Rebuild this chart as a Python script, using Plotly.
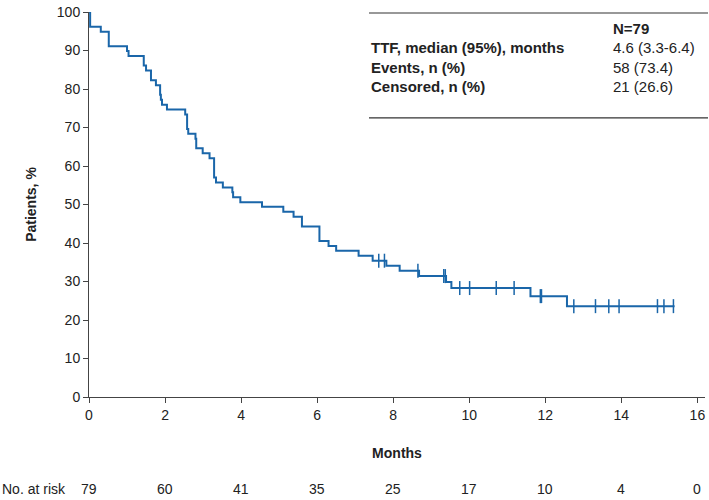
import plotly.graph_objects as go

# Kaplan-Meier step data (months, % patients)
event_times = [0, 0.03, 0.31, 0.52, 1.00, 1.04, 1.44, 1.50, 1.63, 1.76, 1.87, 1.89, 1.92, 2.05,
               2.53, 2.58, 2.61, 2.80, 2.82, 2.99, 3.17, 3.29, 3.34, 3.52, 3.77, 3.79, 3.98,
               4.55, 5.11, 5.38, 5.60, 6.06, 6.30, 6.50, 7.09, 7.46, 7.82, 8.17, 8.68, 9.39,
               9.53, 11.61, 12.57, 15.40]
survival = [100, 96.2, 94.9, 91.1, 89.9, 88.6, 86.1, 84.8, 82.3, 81.0, 78.5, 77.2, 75.9, 74.7,
            73.4, 69.6, 68.4, 67.1, 64.6, 63.3, 62.0, 57.0, 55.7, 54.4, 53.2, 51.9, 50.6,
            49.4, 48.1, 46.8, 44.3, 40.5, 39.2, 38.0, 36.7, 35.4, 34.1, 32.8, 31.4, 29.9,
            28.3, 26.2, 23.6, 23.6]

censor_times = [7.62, 7.77, 8.65, 9.33, 9.37, 9.75, 10.01, 10.71, 11.18, 11.87, 11.90,
                12.75, 13.32, 13.67, 13.94, 14.95, 15.12, 15.37]
censor_surv = [35.4, 35.4, 32.8, 31.4, 31.4, 28.3, 28.3, 28.3, 28.3, 26.2, 26.2,
               23.6, 23.6, 23.6, 23.6, 23.6, 23.6, 23.6]

x_ticks = [0, 2, 4, 6, 8, 10, 12, 14, 16]
y_ticks = [0, 10, 20, 30, 40, 50, 60, 70, 80, 90, 100]
at_risk = [79, 60, 41, 35, 25, 17, 10, 4, 0]

table_labels = ["TTF, median (95%), months", "Events, n (%)", "Censored, n (%)"]
table_values = ["4.6 (3.3-6.4)", "58 (73.4)", "21 (26.6)"]
table_header = "N=79"

BLUE = "#1a66a9"
FONT = "Liberation Sans, Arial, sans-serif"
TXT = "#222222"
W, H = 709, 500
L, R, T, B = 89, 4, 8, 103
PW, PH = W - L - R, H - T - B


def px(xp):
    return (xp - L) / PW


def py(yp):
    return (H - B - yp) / PH


fig = go.Figure()
fig.add_trace(go.Scatter(x=event_times, y=survival, mode="lines",
                         line=dict(color=BLUE, width=2, shape="hv"),
                         cliponaxis=False, showlegend=False, hoverinfo="skip"))
fig.add_trace(go.Scatter(x=censor_times, y=censor_surv, mode="markers",
                         marker=dict(symbol="line-ns", size=10,
                                     line=dict(color=BLUE, width=1.5)),
                         cliponaxis=False, showlegend=False, hoverinfo="skip"))

annotations = []
# at-risk row
annotations.append(dict(text="No. at risk", x=px(0), xref="paper", xanchor="left",
                        y=py(490), yref="paper", yanchor="middle", showarrow=False,
                        font=dict(size=14, color=TXT, family=FONT)))
for xv, n in zip(x_ticks, at_risk):
    annotations.append(dict(text=str(n), x=xv, xref="x", xanchor="center",
                            y=py(490), yref="paper", yanchor="middle", showarrow=False,
                            font=dict(size=14, color=TXT, family=FONT)))
# table
annotations.append(dict(text="<b>" + table_header + "</b>", x=px(611), xref="paper",
                        xanchor="left", y=py(25), yref="paper", yanchor="middle",
                        showarrow=False, font=dict(size=15, color=TXT, family=FONT)))
row_y = [44, 64, 83]
for lab, val, ry in zip(table_labels, table_values, row_y):
    annotations.append(dict(text="<b>" + lab + "</b>", x=px(369), xref="paper",
                            xanchor="left", y=py(ry), yref="paper", yanchor="middle",
                            showarrow=False, font=dict(size=15, color=TXT, family=FONT)))
    annotations.append(dict(text=val, x=px(611), xref="paper",
                            xanchor="left", y=py(ry), yref="paper", yanchor="middle",
                            showarrow=False, font=dict(size=15, color=TXT, family=FONT)))

shapes = [
    dict(type="line", xref="paper", yref="paper", x0=px(369), x1=px(708), y0=py(9), y1=py(9),
         line=dict(color="#333", width=1.2)),
    dict(type="line", xref="paper", yref="paper", x0=px(369), x1=px(708), y0=py(115), y1=py(115),
         line=dict(color="#333", width=1.2)),
]

fig.update_layout(
    width=W, height=H, margin=dict(l=L, r=R, t=T, b=B),
    plot_bgcolor="white", paper_bgcolor="white",
    font=dict(family=FONT, size=14, color=TXT),
    xaxis=dict(range=[0, 16.2], tickvals=x_ticks, showgrid=False, zeroline=False,
               showline=True, linecolor="#444", linewidth=1, ticks="outside",
               ticklen=5, tickcolor="#444", tickfont=dict(size=14),
               ticklabeloverflow="allow",
               title=dict(text="<b>Months</b>", standoff=26, font=dict(size=14))),
    yaxis=dict(range=[0, 100], tickvals=y_ticks, showgrid=False, zeroline=False,
               showline=True, linecolor="#444", linewidth=1, ticks="outside",
               ticklen=5, tickcolor="#444", tickfont=dict(size=14),
               ticklabeloverflow="allow",
               title=dict(text="<b>Patients, %</b>", standoff=16, font=dict(size=14))),
    annotations=annotations, shapes=shapes,
)

fig.write_html("out.html", config={"displayModeBar": False},
               post_script="document.body.style.margin='0';document.body.style.overflow='hidden';")
